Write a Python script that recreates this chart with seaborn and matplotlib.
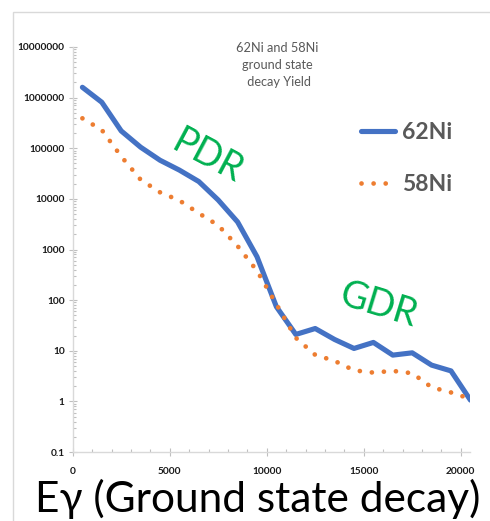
import numpy as np
import pandas as pd
import matplotlib
matplotlib.use("Agg")
import matplotlib.pyplot as plt
import seaborn as sns
from matplotlib.patches import Rectangle
from matplotlib.ticker import FixedLocator, NullFormatter, LogLocator, MultipleLocator

# ---- data ----
energy = [500, 1500, 2500, 3500, 4500, 5500, 6500, 7500, 8500, 9500, 10500,
          11500, 12500, 13500, 14500, 15500, 16500, 17500, 18500, 19500, 20500]
yield_62ni = [1.6e6, 8.1e5, 2.2e5, 1.05e5, 5.8e4, 3.7e4, 2.2e4, 9.5e3, 3.5e3, 720, 74,
              21, 27.5, 16.7, 11.1, 14.6, 8.2, 9.1, 5.2, 4.0, 1.06]
yield_58ni = [3.9e5, 2.3e5, 6.9e4, 2.4e4, 1.35e4, 9.3e3, 5.2e3, 3.0e3, 1.17e3, 380, 83,
              18, 8.3, 6.3, 4.1, 3.7, 4.0, 3.6, 1.9, 1.5, 1.12]
series_names = ["62Ni", "58Ni"]
x_ticks = [0, 5000, 10000, 15000, 20000]
x_tick_labels = ["0", "5000", "10000", "15000", "20000"]
y_ticks = [0.1, 1, 10, 100, 1000, 10000, 100000, 1000000, 10000000]
y_tick_labels = ["0.1", "1", "10", "100", "1000", "10000", "100000", "1000000", "10000000"]
title_text = "62Ni and 58Ni\nground state\n decay Yield"
x_label = "Eγ (Ground state decay)"

df = pd.DataFrame({
    "E": energy * 2,
    "Yield": yield_62ni + yield_58ni,
    "Isotope": [series_names[0]] * len(energy) + [series_names[1]] * len(energy),
})

sns.set_theme(style="white")
plt.rcParams["font.family"] = ["Lato", "DejaVu Sans"]

W, H = 490, 521
fig = plt.figure(figsize=(W / 100, H / 100), dpi=100)
ax_left, ax_right, ax_top, ax_bot = 72.7, 470.4, 47, 452
ax = fig.add_axes([ax_left / W, 1 - ax_bot / H, (ax_right - ax_left) / W, (ax_bot - ax_top) / H])

blue = "#4472C4"
orange = "#ED7D31"
green = "#00B050"
gray_txt = "#595959"
axis_gray = "#D9D9D9"

sns.lineplot(data=df[df["Isotope"] == "62Ni"], x="E", y="Yield", ax=ax, color=blue,
             linewidth=3.7, label="62Ni", solid_capstyle="round", solid_joinstyle="round")
sns.lineplot(data=df[df["Isotope"] == "58Ni"], x="E", y="Yield", ax=ax, color=orange,
             linewidth=3.4, label="58Ni", linestyle=(0, (0.01, 2.55)),
             dash_capstyle="round")

ax.set_yscale("log")
ax.set_xlim(0, 20500)
ax.set_ylim(0.1, 1e7)

ax.xaxis.set_major_locator(FixedLocator(x_ticks))
ax.set_xticklabels(x_tick_labels)
ax.xaxis.set_minor_locator(MultipleLocator(1000))
ax.yaxis.set_major_locator(FixedLocator(y_ticks))
ax.set_yticklabels(y_tick_labels)
ax.yaxis.set_minor_locator(LogLocator(base=10, subs=np.arange(2, 10), numticks=20))
ax.yaxis.set_minor_formatter(NullFormatter())

for lab in ax.get_xticklabels() + ax.get_yticklabels():
    lab.set_fontweight("bold")
    lab.set_fontsize(7.3)
    lab.set_color("#1a1a1a")

ax.tick_params(axis="both", which="major", direction="inout", length=5.5, width=0.8,
               color="#BFBFBF", left=True, bottom=True)
ax.tick_params(axis="y", which="major", pad=3)
ax.tick_params(axis="x", which="major", pad=8)
ax.tick_params(axis="both", which="minor", direction="in", length=2.5, width=0.8,
               color="#BFBFBF", left=True, bottom=True)

for s in ["top", "right"]:
    ax.spines[s].set_visible(False)
for s in ["left", "bottom"]:
    ax.spines[s].set_color(axis_gray)
    ax.spines[s].set_linewidth(1.0)
ax.grid(False)
ax.set_ylabel("")

ax.set_xlabel(x_label, fontsize=30.5, color="black")
ax.xaxis.label.set_va("baseline")
ax.xaxis.set_label_coords((258 - ax_left) / (ax_right - ax_left), -(511.7 - ax_bot) / (ax_bot - ax_top))

# title
fig.text(277 / W, 1 - 65 / H, title_text, ha="center", va="center", fontsize=9.2,
         color=gray_txt, linespacing=1.45, multialignment="center")

# annotations
fig.text(208 / W, 1 - 157 / H, "PDR", color=green, fontsize=27, rotation=-28,
         ha="center", va="center", rotation_mode="anchor")
fig.text(378 / W, 1 - 305 / H, "GDR", color=green, fontsize=27, rotation=-17,
         ha="center", va="center", rotation_mode="anchor")

# legend
leg = ax.legend(loc="center left", bbox_to_anchor=(350 / W, 1 - 158.3 / H),
                bbox_transform=fig.transFigure, frameon=False, borderpad=0,
                handlelength=1.45, handletextpad=0.3, labelspacing=1.35,
                prop={"weight": "bold", "size": 16.5})
for t in leg.get_texts():
    t.set_color(gray_txt)
for h in leg.get_lines():
    h.set_dash_capstyle("round")
    h.set_solid_capstyle("round")

# chart border
fig.patches.append(Rectangle((12.5 / W, -0.2), 1.2, (1 - 11.5 / H) + 0.2, transform=fig.transFigure,
                             fill=False, edgecolor=axis_gray, linewidth=1.0))

fig.savefig("out.png", dpi=100)
